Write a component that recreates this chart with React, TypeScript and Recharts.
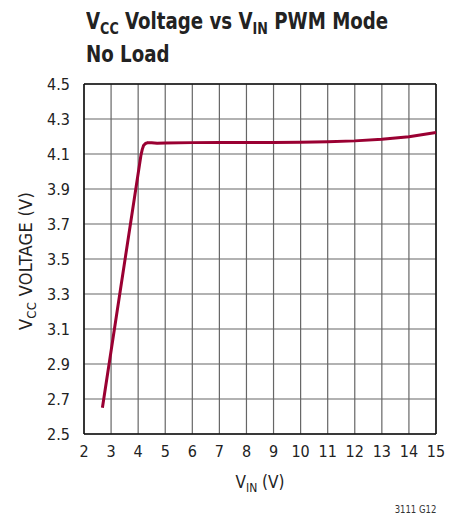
import React from 'react';
import { LineChart, Line, XAxis, YAxis, CartesianGrid, ReferenceLine, Label } from 'recharts';

const vin = [2.68, 4.1, 4.15, 4.2, 4.27, 4.36, 4.5, 4.7, 5, 6, 7, 8, 9, 10, 11, 12, 13, 14, 15];
const vcc = [2.65, 4.09, 4.125, 4.148, 4.16, 4.165, 4.164, 4.161, 4.163, 4.165, 4.166, 4.166, 4.166, 4.167, 4.17, 4.175, 4.184, 4.198, 4.223];
const xTicks = [2, 3, 4, 5, 6, 7, 8, 9, 10, 11, 12, 13, 14, 15];
const yTicks = [2.5, 2.7, 2.9, 3.1, 3.3, 3.5, 3.7, 3.9, 4.1, 4.3, 4.5];

const data = vin.map((v, i) => ({ vin: v, vcc: vcc[i] }));

const FONT = '"Liberation Sans Narrow", "DejaVu Sans Condensed", "Liberation Sans", sans-serif';

const YLabel = (props: any) => {
  const vb = props.viewBox || {};
  const cx = 32;
  const cy = vb.y + vb.height / 2 + 2;
  return (
    <text x={cx} y={cy} transform={`rotate(-90 ${cx} ${cy})`} textAnchor="middle" fontFamily={FONT} fontSize={18} fill="#222" letterSpacing={0.3}>
      V<tspan fontSize={13} dy={4}>CC</tspan><tspan dy={-4}> VOLTAGE (V)</tspan>
    </text>
  );
};

const XLabel = (props: any) => {
  const vb = props.viewBox || {};
  const cx = vb.x + vb.width / 2;
  return (
    <text x={cx} y={488} textAnchor="middle" fontFamily={FONT} fontSize={17} fill="#222">
      V<tspan fontSize={12} dy={4}>IN</tspan><tspan dy={-4}> (V)</tspan>
    </text>
  );
};

export default function App() {
  return (
    <div style={{ position: 'absolute', left: 0, top: 0, width: 449, height: 520, background: '#fff' }}>
      <div style={{ position: 'absolute', left: 86, top: 6, fontFamily: FONT, fontWeight: 'bold', fontSize: 23, lineHeight: '30px', color: '#222', transform: 'scaleX(0.88)', transformOrigin: 'left top', whiteSpace: 'nowrap' }}>
        <div>V<span style={{ fontSize: 16, position: 'relative', top: 5 }}>CC</span> Voltage vs V<span style={{ fontSize: 16, position: 'relative', top: 5 }}>IN</span> PWM Mode</div>
        <div>No Load</div>
      </div>
      <div style={{ position: 'absolute', right: 13, top: 503, fontFamily: FONT, fontSize: 10.5, color: '#333', transform: 'scaleX(0.9)', transformOrigin: 'right top' }}>3111 G12</div>
      <LineChart width={449} height={520} data={data} margin={{ top: 84, right: 13, bottom: 56, left: 0 }}>
        <CartesianGrid stroke="#666" strokeWidth={1.2} />
        <XAxis
          dataKey="vin"
          type="number"
          domain={[2, 15]}
          ticks={xTicks}
          interval={0}
          tickLine={false}
          axisLine={{ stroke: '#111', strokeWidth: 1.5 }}
          height={30}
          tick={{ fontFamily: FONT, fontSize: 16, fill: '#222' }}
          tickMargin={6}
        >
          <Label content={<XLabel />} />
        </XAxis>
        <YAxis
          type="number"
          domain={[2.5, 4.5]}
          ticks={yTicks}
          interval={0}
          tickLine={false}
          axisLine={{ stroke: '#111', strokeWidth: 1.5 }}
          width={84}
          tick={{ fontFamily: FONT, fontSize: 16, fill: '#222' }}
          tickMargin={8}
          tickFormatter={(v: number) => v.toFixed(1)}
        >
          <Label content={<YLabel />} />
        </YAxis>
        <ReferenceLine y={4.5} stroke="#111" strokeWidth={1.5} />
        <ReferenceLine x={15} stroke="#111" strokeWidth={1.5} />
        <Line type="linear" dataKey="vcc" stroke="#9a0032" strokeWidth={3} strokeLinejoin="round" dot={false} isAnimationActive={false} />
      </LineChart>
    </div>
  );
}
